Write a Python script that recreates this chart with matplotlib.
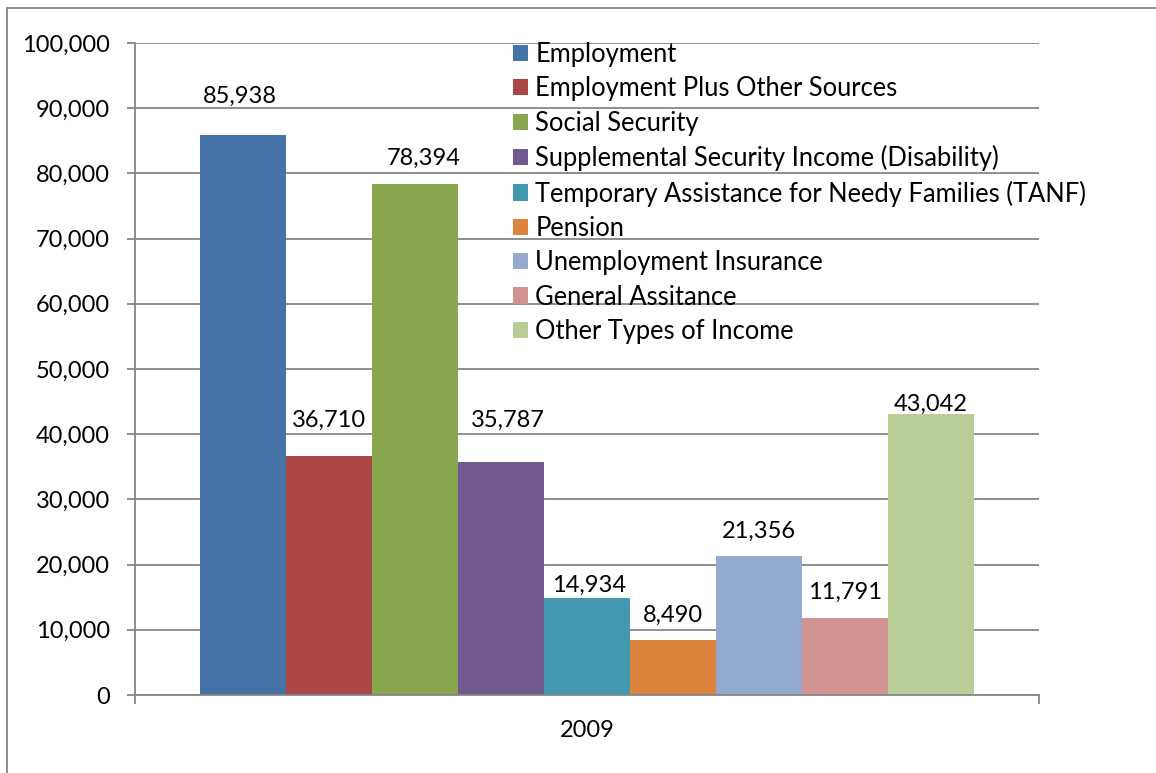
import numpy as np
import matplotlib.pyplot as plt
from matplotlib.lines import Line2D

plt.rcParams['font.family'] = ['Lato', 'DejaVu Sans']

year = '2009'
sources = ['Employment', 'Employment Plus Other Sources', 'Social Security',
           'Supplemental Security Income (Disability)',
           'Temporary Assistance for Needy Families (TANF)', 'Pension',
           'Unemployment Insurance', 'General Assitance', 'Other Types of Income']
counts = [85938, 36710, 78394, 35787, 14934, 8490, 21356, 11791, 43042]
colors = ['#4572A7', '#AA4643', '#89A54E', '#71588F', '#4198AF',
          '#DB843D', '#93A9CF', '#D19392', '#B9CD96']

# hand-placed data labels: gap above bar top and sideways nudge, in pixels
label_dy = [32, 29, 19, 35, 6, 18, 18, 19, 4]
label_dx = [-3, 0, 9, 7, 2, 0, 0, 0, 0]

W, H = 1156, 773
fig = plt.figure(figsize=(W / 100, H / 100), dpi=100)
ax = fig.add_axes([135 / W, 1 - 695 / H, (1039 - 135) / W, (695 - 43) / H])

grid_c = '#868686'
x = np.arange(len(counts))
bars = ax.bar(x, counts, width=1.0, color=colors, label=sources, zorder=2)
for xi, v, dy, dx in zip(x, counts, label_dy, label_dx):
    ax.annotate('{:,}'.format(v), (xi, v), xytext=(dx * 0.72, dy * 0.72),
                textcoords='offset points', ha='center', va='baseline', fontsize=17)

pad = 65 / 86
ax.set_xlim(-0.5 - pad, len(counts) - 0.5 + pad)
ax.set_ylim(0, 100000)
ax.set_yticks(np.arange(0, 100001, 10000))
ax.set_yticklabels(['{:,}'.format(t) for t in range(0, 100001, 10000)], fontsize=17)
ax.yaxis.grid(True, color=grid_c, lw=1.3, zorder=0)
ax.set_axisbelow(True)
ax.tick_params(axis='y', length=6, width=1.3, color=grid_c, pad=12)
ax.set_xticks([])
ax.text(0.5, -0.055, year, transform=ax.transAxes, ha='center', va='center', fontsize=17)

for s in ['top', 'right']:
    ax.spines[s].set_visible(False)
for s in ['left', 'bottom']:
    ax.spines[s].set_color(grid_c)
    ax.spines[s].set_linewidth(1.3)

# little end ticks under the category axis
for xe in [0, 1]:
    ax.add_line(Line2D([xe, xe], [0, -0.012], transform=ax.transAxes,
                       color=grid_c, lw=1.3, clip_on=False))

leg = fig.legend(handles=bars, labels=sources, loc='upper left',
                 bbox_to_anchor=(513 / W, 1 - 42 / H), frameon=False,
                 fontsize=18.4, handlelength=0.6, handleheight=0.6,
                 handletextpad=0.27, labelspacing=0.365, borderpad=0, borderaxespad=0)

# outer chart border
fig.add_artist(Line2D([7 / W, 1], [1 - 8 / H, 1 - 8 / H], color=grid_c, lw=1.3))
fig.add_artist(Line2D([7 / W, 7 / W], [0, 1 - 8 / H], color=grid_c, lw=1.3))

fig.savefig('out.png', dpi=100)
